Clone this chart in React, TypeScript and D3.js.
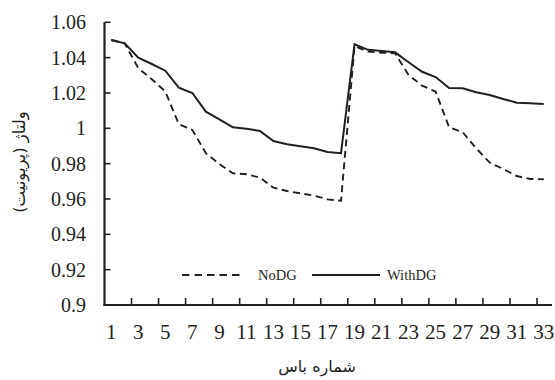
import React from "react";
import * as d3 from "d3";

const buses: number[] = d3.range(1, 34);
const noDG: number[] = [
  1.05, 1.048, 1.034, 1.0278, 1.0208, 1.0023, 0.9991, 0.9859, 0.9798, 0.9745,
  0.974, 0.9721, 0.9664, 0.9645, 0.9632, 0.9619, 0.9598, 0.959, 1.0466, 1.0434,
  1.0428, 1.0425, 1.0302, 1.0241, 1.0208, 1.0006, 0.9978, 0.9887, 0.9806, 0.977,
  0.973, 0.9713, 0.9712,
];
const withDG: number[] = [
  1.05, 1.0481, 1.04, 1.0364, 1.0326, 1.023, 1.02, 1.0094, 1.005, 1.0006,
  0.9998, 0.9985, 0.9928, 0.991, 0.9898, 0.9887, 0.9866, 0.9859, 1.0476, 1.0444,
  1.0438, 1.043, 1.0374, 1.032, 1.029, 1.0228, 1.0227, 1.0204, 1.0189, 1.0166,
  1.0145, 1.0142, 1.0138,
];
const yTicks: number[] = [0.9, 0.92, 0.94, 0.96, 0.98, 1, 1.02, 1.04, 1.06];
const xLabels: number[] = buses.filter((b) => b % 2 === 1);
const seriesNames = ["NoDG", "WithDG"];
const xTitle = "شماره باس";
const yTitle = "ولتاژ (پریونیت)";

export default function App() {
  const W = 555;
  const H = 380;
  const left = 104.5;
  const right = 550.5;
  const top = 22.3;
  const bottom = 305;
  const ink = "#231f20";
  const serif = "Liberation Serif";
  const arabic = "DejaVu Sans";

  const x = d3.scaleBand<number>().domain(buses).range([left, right]).paddingInner(0).paddingOuter(0);
  const y = d3.scaleLinear().domain([0.9, 1.06]).range([bottom, top]);
  const cx = (b: number) => (x(b) as number) + x.bandwidth() / 2;

  const line = d3
    .line<number>()
    .x((_, i) => cx(buses[i]))
    .y((d) => y(d));

  const boundaryTicks = buses.filter((b) => b % 2 === 0).map((b) => (x(b) as number) + x.bandwidth());

  return (
    <svg width={W} height={H} style={{ position: "absolute", left: 0, top: 0, background: "#fff" }}>
      <rect x={0} y={0} width={W} height={H} fill="#fff" />
      {/* y axis */}
      <line x1={left} x2={left} y1={top} y2={bottom + 1} stroke={ink} strokeWidth={2.2} />
      {yTicks.map((t) => (
        <g key={"y" + t}>
          <line x1={left} x2={left + 6} y1={y(t)} y2={y(t)} stroke={ink} strokeWidth={1.6} />
          <text x={86} y={y(t)} dy="0.35em" textAnchor="end" style={{ fontFamily: serif }} fontSize={20} fill={ink}>
            {String(t)}
          </text>
        </g>
      ))}
      {/* x axis */}
      <line x1={left - 1} x2={552} y1={bottom} y2={bottom} stroke={ink} strokeWidth={2.2} />
      {boundaryTicks.map((tx, i) => (
        <line key={"xt" + i} x1={tx} x2={tx} y1={bottom} y2={bottom - 7} stroke={ink} strokeWidth={1.6} />
      ))}
      {xLabels.map((b) => (
        <text key={"xl" + b} x={cx(b)} y={338.5} textAnchor="middle" style={{ fontFamily: serif }} fontSize={21} fill={ink}>
          {b}
        </text>
      ))}
      {/* series */}
      <path d={line(noDG) || ""} fill="none" stroke={ink} strokeWidth={1.9} strokeDasharray="7,4.5" />
      <path d={line(withDG) || ""} fill="none" stroke={ink} strokeWidth={2} />
      {/* legend */}
      <line x1={182} x2={243} y1={275} y2={275} stroke={ink} strokeWidth={1.9} strokeDasharray="7.5,5" />
      <text x={258} y={280} style={{ fontFamily: serif }} fontSize={14.5} fill={ink}>
        {seriesNames[0]}
      </text>
      <line x1={312} x2={380} y1={275} y2={275} stroke={ink} strokeWidth={2} />
      <text x={387} y={280} style={{ fontFamily: serif }} fontSize={14.5} fill={ink}>
        {seriesNames[1]}
      </text>
      {/* titles */}
      <text x={317} y={372} textAnchor="middle" style={{ fontFamily: arabic }} fontSize={16} fill={ink} direction="rtl">
        {xTitle}
      </text>
      <text
        transform={`translate(25, ${162}) rotate(-90)`}
        textAnchor="middle"
        style={{ fontFamily: arabic }}
        fontSize={16.5}
        fill={ink}
        direction="rtl"
      >
        {yTitle}
      </text>
    </svg>
  );
}
